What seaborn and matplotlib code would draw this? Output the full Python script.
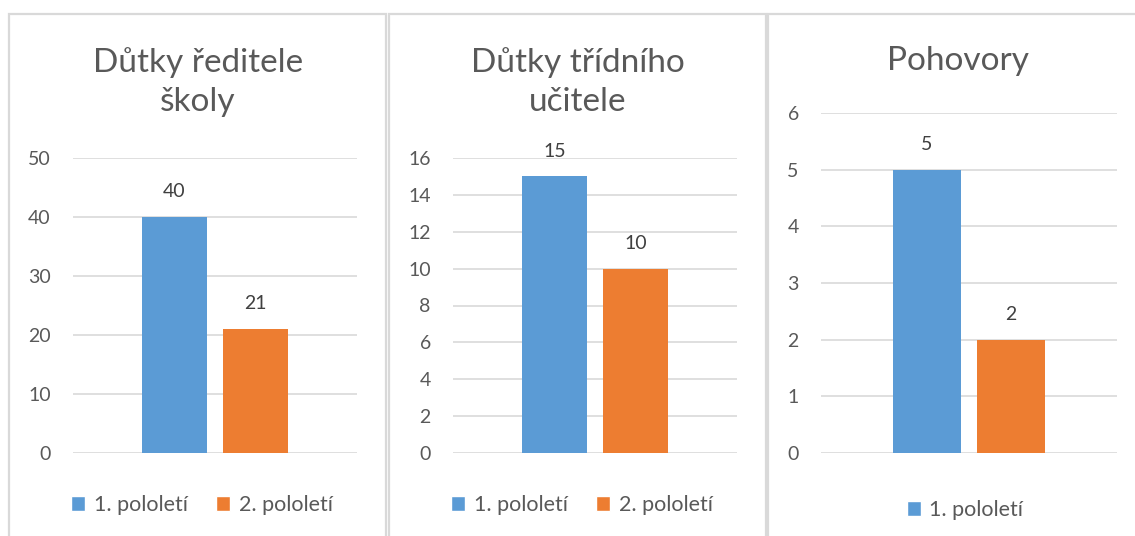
import pandas as pd
import seaborn as sns
import matplotlib.pyplot as plt
from matplotlib.patches import Patch, Rectangle

# data
series = ['1. pololetí', '2. pololetí']
titles = ['Důtky ředitele\nškoly', 'Důtky třídního\nučitele', 'Pohovory']
reditel = [40, 21]
tridni = [15, 10]
pohovory = [5, 2]
ymax = [50, 16, 6]
ystep = [10, 2, 1]

colors = ['#5B9BD5', '#ED7D31']
text_col = '#595959'
grid_col = '#D9D9D9'

sns.set_theme(style='white')
plt.rcParams['font.family'] = ['Lato', 'DejaVu Sans']

W, H = 1135, 536
fig = plt.figure(figsize=(W / 100, H / 100), dpi=100)


def px(x0, y0, x1, y1):
    # pixel box (top-down) -> figure fraction
    return [x0 / W, 1 - y1 / H, (x1 - x0) / W, (y1 - y0) / H]


# panel frames
for x0, x1 in [(9, 386), (389, 766), (768, 1160)]:
    fig.add_artist(Rectangle((x0 / W, -0.1), (x1 - x0) / W, 1 - 14 / H + 0.1,
                             transform=fig.transFigure, fill=False,
                             edgecolor=grid_col, lw=1.6))

boxes = [(73, 158, 357, 453), (453, 158, 737, 453), (821, 113, 1117, 453)]
title_pos = [(198, 82), (578, 82), (958, 61)]
leg_pos = [(202, 505), (582, 505), (965, 510)]
values = [reditel, tridni, pohovory]

for i in range(3):
    df = pd.DataFrame({'cat': [''] * 2, 'pololeti': series, 'val': values[i]})
    ax = fig.add_axes(px(*boxes[i]))
    sns.barplot(data=df, x='cat', y='val', hue='pololeti', palette=colors,
                width=0.57, gap=0.2, saturation=1, legend=False, ax=ax,
                linewidth=0)
    ax.set_ylim(0, ymax[i])
    ax.set_yticks(range(0, ymax[i] + 1, ystep[i]))
    ax.set_xticks([])
    ax.set_xlabel('')
    ax.set_ylabel('')
    ax.yaxis.grid(True, color=grid_col, lw=1.2)
    ax.set_axisbelow(True)
    for s in ax.spines.values():
        s.set_visible(False)
    ax.tick_params(axis='y', length=0, pad=16, labelsize=14, labelcolor=text_col)
    for c in ax.containers:
        ax.bar_label(c, padding=12, fontsize=14, color='#404040')

    fig.text(title_pos[i][0] / W, 1 - title_pos[i][1] / H, titles[i],
             ha='center', va='center', fontsize=24, color=text_col,
             linespacing=1.4)

    n = 1 if i == 2 else 2
    handles = [Patch(facecolor=colors[k], label=series[k]) for k in range(n)]
    fig.legend(handles=handles, loc='center',
               bbox_to_anchor=(leg_pos[i][0] / W, 1 - leg_pos[i][1] / H),
               ncol=n, frameon=False, fontsize=15.5, labelcolor=text_col,
               handlelength=0.65, handleheight=0.65, handletextpad=0.4,
               columnspacing=1.3)

fig.savefig('out.png', dpi=100)
